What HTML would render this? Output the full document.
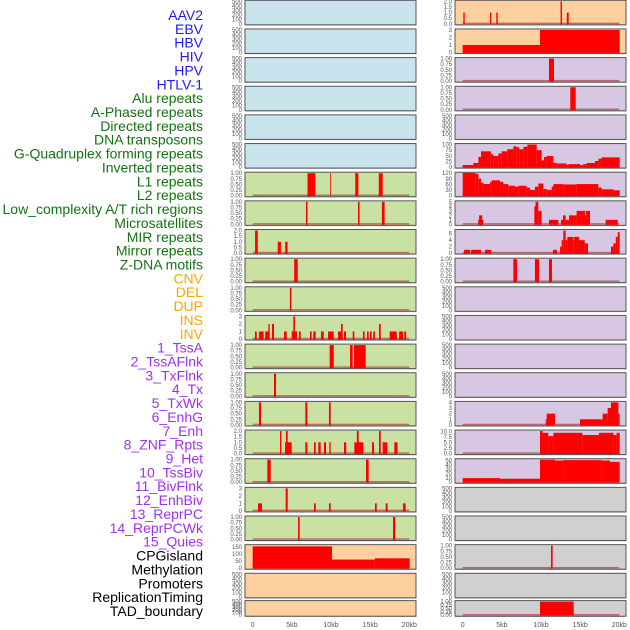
<!DOCTYPE html>
<html><head><meta charset="utf-8">
<style>
html,body{margin:0;padding:0;background:#fff;}
svg{display:block;font-family:"Liberation Sans",sans-serif;}
</style></head>
<body>
<svg id="chart" width="630" height="630" viewBox="0 0 630 630" xmlns="http://www.w3.org/2000/svg">
<g id="labels"></g>
<g id="panels"></g>
<g id="xaxes"></g>
</svg>
<script>
// ---- data ----
const trackLabels = ["AAV2","EBV","HBV","HIV","HPV","HTLV-1","Alu repeats","A-Phased repeats","Directed repeats","DNA transposons","G-Quadruplex forming repeats","Inverted repeats","L1 repeats","L2 repeats","Low_complexity A/T rich regions","Microsatellites","MIR repeats","Mirror repeats","Z-DNA motifs","CNV","DEL","DUP","INS","INV","1_TssA","2_TssAFlnk","3_TxFlnk","4_Tx","5_TxWk","6_EnhG","7_Enh","8_ZNF_Rpts","9_Het","10_TssBiv","11_BivFlnk","12_EnhBiv","13_ReprPC","14_ReprPCWk","15_Quies","CPGisland","Methylation","Promoters","ReplicationTiming","TAD_boundary"];
const labelGroups = ["virus","virus","virus","virus","virus","virus","repeat","repeat","repeat","repeat","repeat","repeat","repeat","repeat","repeat","repeat","repeat","repeat","repeat","sv","sv","sv","sv","sv","chrom","chrom","chrom","chrom","chrom","chrom","chrom","chrom","chrom","chrom","chrom","chrom","chrom","chrom","chrom","other","other","other","other","other"];
const xTicks = [0,5,10,15,20];
const xTickLabels = ["0","5kb","10kb","15kb","20kb"];

const ticks500 = ["0","100","200","300","400","500"];
const ticks1 = ["0.00","0.25","0.50","0.75","1.00"];
const ticks2 = ["0.0","0.5","1.0","1.5","2.0"];
const ticks3 = ["0","1","2","3"];

// segments: [startKb, endKb, value]
const L6 = [[7.0,8.0,1],[9.9,10.0,1],[13.1,13.5,1],[16.1,16.6,1]];
const L7 = [[6.8,7.0,1],[13.45,13.65,1],[16.5,16.85,1]];
const L8 = [[0.3,0.65,2],[3.2,3.6,1],[4.15,4.45,1]];
const L9 = [[5.3,5.75,1]];
const L10 = [[4.75,4.95,1]];
const L11 = [[0.29,0.51,1],[0.8,1.4,1],[1.6,2.1,1],[2.0,2.17,2],[2.46,2.72,2],[4.0,4.34,1],[4.98,5.66,1],[5.19,5.4,3],[5.91,6.13,1],[7.32,7.53,1],[7.74,8.05,1],[8.72,9.07,1],[9.62,10.35,1],[10.9,11.45,1],[11.28,11.49,2],[11.66,11.92,1],[12.77,12.98,1],[14.09,14.3,1],[14.6,14.81,1],[14.98,15.2,1],[15.4,15.62,1],[16.13,16.35,2],[17.5,18.4,1],[18.7,19.2,1],[19.36,19.6,1]];
const L12 = [[9.83,10.35,1],[12.43,12.77,1],[12.94,14.43,1]];
const L13 = [[2.72,2.98,1]];
const L14 = [[0.8,1.06,1],[6.72,6.98,1],[9.74,9.96,1]];
const L15 = [[3.49,3.66,2],[4.13,4.98,1],[4.25,4.47,2],[6.72,6.98,1],[7.83,8.05,1],[8.38,8.68,1],[9.1,9.36,1],[9.79,9.96,1],[11.66,11.95,1],[12.98,13.7,1],[13.3,13.54,2],[13.7,14.13,1],[15.24,15.49,1],[16.13,16.35,2],[16.6,17.19,1],[18.09,18.5,1]];
const L16 = [[1.87,2.3,1],[14.47,14.81,1]];
const L17 = [[0.68,1.19,1],[4.21,4.47,3],[7.83,8.05,1],[9.74,9.96,1],[15.62,15.84,1],[16.98,17.24,1],[19.2,19.53,1]];
const L18 = [[5.79,6.0,1],[17.92,18.21,1]];
const L19 = [[0,10.13,155],[10.13,15.6,61],[15.6,20.05,70]];

const R0 = [[0.08,0.26,1],[3.49,3.65,1],[4.29,4.47,1],[12.5,12.68,2],[13.3,13.54,1]];
const R1 = [[0,9.87,1],[9.87,20.05,3]];
const R2 = [[11.02,11.66,1]];
const R3 = [[13.74,14.43,1]];
const R5 = [[0,1.35,9],[1.35,2.0,18],[2.0,2.34,45],[2.34,3.6,70],[3.6,3.9,57],[3.9,4.55,49],[4.55,4.98,60],[4.98,5.7,70],[5.7,6.47,79],[6.47,6.9,92],[6.9,7.23,88],[7.23,7.75,79],[7.75,8.25,90],[8.25,9.45,100],[9.45,10.08,75],[10.08,10.39,30],[10.39,10.73,45],[10.73,11.58,49],[11.58,12.0,19],[12.0,13.27,16],[13.27,13.49,9],[13.49,14.98,13],[14.98,15.4,9],[15.4,15.83,13],[15.83,16.9,18],[16.9,17.32,27],[17.32,17.75,37],[17.75,20.05,43]];
const R6 = [[0,1.6,122],[1.6,2.0,117],[2.0,2.34,91],[2.34,2.64,69],[2.64,3.49,62],[3.49,3.7,74],[3.7,4.77,82],[4.77,5.2,74],[5.2,5.83,62],[5.83,6.68,53],[6.68,7.1,48],[7.1,8.17,53],[8.17,8.6,43],[8.6,9.23,31],[9.23,9.66,48],[9.66,10.3,65],[10.3,10.73,36],[10.73,11.36,31],[11.36,11.58,48],[11.58,12.85,62],[12.85,14.55,60],[14.55,17.32,62],[17.32,17.75,43],[17.75,19.24,34],[19.24,20.05,29]];
const R7 = [[1.98,2.63,1],[2.1,2.5,2],[9.15,9.36,4],[9.3,9.66,5],[9.66,10.08,3],[11.02,12.22,1],[12.55,12.85,1],[12.81,13.15,2],[13.15,13.58,1],[13.58,14.55,2],[14.55,15.62,3],[15.53,15.75,2],[15.75,16.26,3],[18.26,19.8,1]];
const R8 = [[0.17,0.94,1],[1.07,2.34,1],[2.85,3.62,1],[11.53,12.04,1],[12.43,12.64,2],[12.64,12.85,4],[12.85,13.15,7],[13.15,13.36,4],[13.36,14.13,5],[14.13,14.22,4],[14.22,14.85,5],[14.85,15.58,4],[15.58,16.0,3],[18.94,19.24,2],[19.24,19.55,3],[19.55,19.8,5],[19.8,20.05,6.5]];
const R9 = [[6.47,6.94,1],[9.23,9.75,1],[11.02,11.4,1]];
const R14 = [[10.6,10.73,1],[10.73,11.79,2],[14.98,17.87,1],[17.87,18.51,2],[18.51,18.94,3],[18.94,19.88,4],[19.88,20.05,2]];
const R15 = [[9.87,10.2,10.3],[10.2,10.94,9.5],[10.94,11.58,8.0],[11.58,15.28,9.5],[15.28,17.41,8.5],[17.41,19.24,9.5],[19.24,19.66,8.5],[19.66,20.05,9.5]];
const R16 = [[0,4.77,9.5],[4.77,9.87,8],[9.87,11.79,52],[11.79,12.85,50],[12.85,17.75,51],[17.75,18.81,50],[18.81,20.05,47]];
const R19 = [[11.28,11.49,1]];
const R21 = [[9.87,14.17,1]];

const leftPanels = [
 {bg:"blue",segs:null,max:500,ticks:ticks500},{bg:"blue",segs:null,max:500,ticks:ticks500},
 {bg:"blue",segs:null,max:500,ticks:ticks500},{bg:"blue",segs:null,max:500,ticks:ticks500},
 {bg:"blue",segs:null,max:500,ticks:ticks500},{bg:"blue",segs:null,max:500,ticks:ticks500},
 {bg:"green",segs:L6,max:1,ticks:ticks1},{bg:"green",segs:L7,max:1,ticks:ticks1},
 {bg:"green",segs:L8,max:2,ticks:ticks2},{bg:"green",segs:L9,max:1,ticks:ticks1},
 {bg:"green",segs:L10,max:1,ticks:ticks1},{bg:"green",segs:L11,max:3,ticks:ticks3},
 {bg:"green",segs:L12,max:1,ticks:ticks1},{bg:"green",segs:L13,max:1,ticks:ticks1},
 {bg:"green",segs:L14,max:1,ticks:ticks1},{bg:"green",segs:L15,max:2,ticks:ticks2},
 {bg:"green",segs:L16,max:1,ticks:ticks1},{bg:"green",segs:L17,max:3,ticks:ticks3},
 {bg:"green",segs:L18,max:1,ticks:ticks1},
 {bg:"peach",segs:L19,max:160,ticks:["0","50","100","150"],tickVals:[0,50,100,150]},
 {bg:"peach",segs:null,max:500,ticks:ticks500},{bg:"peach",segs:null,max:500,ticks:ticks500}
];
const rightPanels = [
 {bg:"peach",segs:R0,max:2,ticks:ticks2},{bg:"peach",segs:R1,max:3,ticks:ticks3},
 {bg:"lav",segs:R2,max:1,ticks:ticks1},{bg:"lav",segs:R3,max:1,ticks:ticks1},
 {bg:"lav",segs:null,max:500,ticks:ticks500},
 {bg:"lav",segs:R5,max:100,ticks:["0","25","50","75","100"]},
 {bg:"lav",segs:R6,max:120,ticks:["0","30","60","90","120"]},
 {bg:"lav",segs:R7,max:5,ticks:["0","1","2","3","4","5"]},
 {bg:"lav",segs:R8,max:7,ticks:["0","2","4","6"],tickVals:[0,2,4,6]},
 {bg:"lav",segs:R9,max:1,ticks:ticks1},
 {bg:"lav",segs:null,max:500,ticks:ticks500},{bg:"lav",segs:null,max:500,ticks:ticks500},
 {bg:"lav",segs:null,max:500,ticks:ticks500},{bg:"lav",segs:null,max:500,ticks:ticks500},
 {bg:"lav",segs:R14,max:4,ticks:["0","1","2","3","4"]},
 {bg:"lav",segs:R15,max:10.3,ticks:["0.0","2.5","5.0","7.5","10.0"],tickVals:[0,2.5,5,7.5,10]},
 {bg:"lav",segs:R16,max:52,ticks:["0","10","20","30","40","50"],tickVals:[0,10,20,30,40,50]},
 {bg:"gray",segs:null,max:500,ticks:ticks500},{bg:"gray",segs:null,max:500,ticks:ticks500},
 {bg:"gray",segs:R19,max:1,ticks:ticks1},{bg:"gray",segs:null,max:500,ticks:ticks500},
 {bg:"gray",segs:R21,max:1,ticks:ticks1}
];

// ---- rendering ----
const NS = "http://www.w3.org/2000/svg";
const bgColors = {blue:"#c9e4ec",green:"#c9e2a4",peach:"#fed0a0",lav:"#d7c7e2",gray:"#d0d0d0"};
const groupColors = {virus:"#1c1cf0",repeat:"#137313",sv:"#ffa500",chrom:"#a030f0",other:"#000000"};
function mk(tag, attrs, parent){const e=document.createElementNS(NS,tag);for(const k in attrs)e.setAttribute(k,attrs[k]);parent.appendChild(e);return e;}

const labelsG = document.getElementById("labels");
trackLabels.forEach((t,i)=>{
  const el = mk("text",{x:203,y:15+i*13.86+5,"text-anchor":"end","font-size":"14",fill:groupColors[labelGroups[i]]},labelsG);
  
  
  el.textContent = t;
});

const panelsG = document.getElementById("panels");
function rowTop(i){return i<21 ? 0.3+i*28.65 : 600.6;}
function rowH(i){return i<21 ? 24.5 : 15.6;}
function drawColumn(panels, px0, zeroX, side){
  const pw = 171;
  const xs = kb => zeroX + kb*7.83;
  panels.forEach((p,i)=>{
    const top=rowTop(i), h=rowH(i);
    const g = mk("g",{},panelsG);
    
    
    mk("rect",{x:px0+0.5,y:top+0.8,width:pw,height:h,fill:"#bbb"},g);
    const bg = mk("rect",{x:px0,y:top,width:pw,height:h,fill:bgColors[p.bg],stroke:"#555","stroke-width":1},g);
    
    
    const y0 = top+h-1, y1 = top+1;
    const ys = v => y0 - (v/p.max)*(y0-y1);
    // y ticks
    const n = p.ticks.length;
    p.ticks.forEach((t,k)=>{
      const v = p.tickVals ? p.tickVals[k] : p.max*k/(n-1);
      const tl = mk("text",{x:px0-3,y:ys(v)+2,"text-anchor":"end","font-size":"6",fill:"#555"},g);
      
      
      tl.textContent = t;
    });
    if(p.segs){
      const bl = mk("rect",{x:xs(0),y:y0-1.2,width:xs(20)-xs(0),height:1.5,fill:"rgba(170,20,20,0.55)"},g);
      
      
      p.segs.forEach(s=>{
        const yt = Math.max(top, ys(s[2]));
        const r = mk("rect",{x:xs(s[0]),y:yt,width:Math.max(0.8,xs(s[1])-xs(s[0])),height:y0-yt+0.5,fill:"#ff0000"},g);
        
        
      });
    }
  });
  const xg = document.getElementById("xaxes");
  xTicks.forEach((v,k)=>{
    const t = mk("text",{x:xs(v),y:627,"text-anchor":"middle","font-size":"7",fill:"#555"},xg);
    
    
    t.textContent = xTickLabels[k];
  });
}
drawColumn(leftPanels, 245, 252.7, "left");
drawColumn(rightPanels, 455, 462.7, "right");
</script>
</body></html>
